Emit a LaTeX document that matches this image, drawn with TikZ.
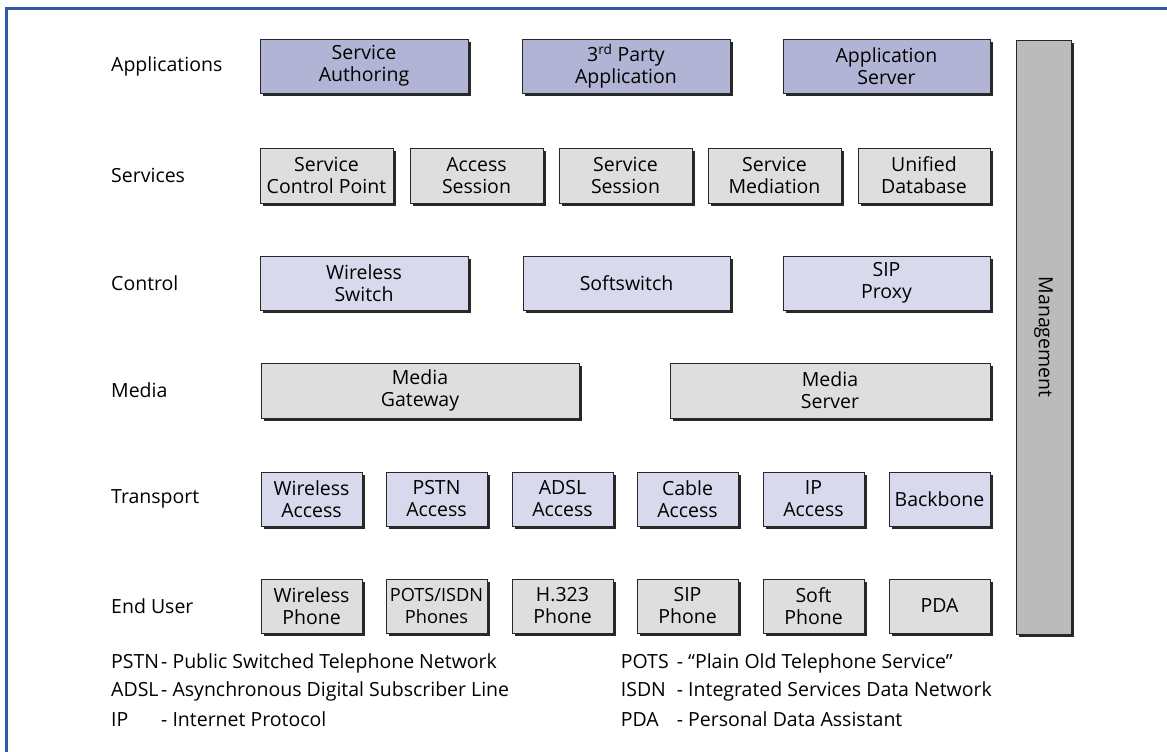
\documentclass[tikz,border=0pt]{standalone}
\usepackage{fontspec}
\setmainfont{Open Sans}
\usetikzlibrary{shadows}

\definecolor{frameblue}{RGB}{46,88,166}
\definecolor{appfill}{RGB}{178,180,214}
\definecolor{ctlfill}{RGB}{216,217,237}
\definecolor{greyfill}{RGB}{222,222,222}
\definecolor{mgmtfill}{RGB}{187,187,187}
\definecolor{edgegrey}{RGB}{40,40,40}

\newcommand{\labelfont}{\fontsize{19.5}{22}\selectfont}
\tikzset{
  layerbox/.style n args={3}{
    draw=edgegrey, line width=0.9pt, fill=#1,
    minimum width=#2, minimum height=#3,
    align=center, inner sep=0pt,
    font=\labelfont,
    drop shadow={shadow xshift=3pt, shadow yshift=-3pt, fill=edgegrey, opacity=1}
  },
  narrowtext/.style={font=\fontsize{18.2}{22}\selectfont},
  rowlabel/.style={anchor=west, inner sep=0pt, font=\labelfont},
  legend/.style={anchor=west, inner sep=0pt, font=\labelfont}
}
\newcommand{\abbr}[1]{\makebox[50pt][l]{#1}}
\newcommand{\abbrwide}[1]{\makebox[56pt][l]{#1}}

\begin{document}
\begin{tikzpicture}[x=1pt, y=-1pt]
\useasboundingbox (0,0) rectangle (1167,752);

% open frame along the top and left edges
\draw[frameblue, line width=3pt] (6.5,770) -- (6.5,8.5) -- (1180,8.5);

% row labels
\node[rowlabel] (lapp) at (111,66) {Applications};
\node[rowlabel] (lsvc) at (111,175.5) {Services};
\node[rowlabel] (lctl) at (111,283) {Control};
\node[rowlabel] (lmed) at (111,390.5) {Media};
\node[rowlabel] (ltrn) at (111,499) {Transport};
\node[rowlabel] (lusr) at (111,606) {End User};

% applications
\node[layerbox={appfill}{208pt}{54pt}] (auth) at (364,66) {Service\\Authoring};
\node[layerbox={appfill}{208pt}{54pt}] (third) at (626,66) {3\textsuperscript{rd} Party\\Application};
\node[layerbox={appfill}{207pt}{54pt}] (appsrv) at (886.5,66) {Application\\Server};

% services
\node[layerbox={greyfill}{133pt}{55pt}] (scp) at (326.5,175.5) {Service\\Control Point};
\node[layerbox={greyfill}{133pt}{55pt}] (accsess) at (476.5,175.5) {Access\\Session};
\node[layerbox={greyfill}{133pt}{55pt}] (svcsess) at (625.5,175.5) {Service\\Session};
\node[layerbox={greyfill}{133pt}{55pt}] (svcmed) at (774.5,175.5) {Service\\Mediation};
\node[layerbox={greyfill}{132pt}{55pt}] (udb) at (924,175.5) {Unified\\Database};

% control
\node[layerbox={ctlfill}{208pt}{54pt}] (wsw) at (364,283) {Wireless\\Switch};
\node[layerbox={ctlfill}{207pt}{54pt}] (soft) at (626.5,283) {Softswitch};
\node[layerbox={ctlfill}{207pt}{54pt}] (sip) at (886.5,283) {SIP\\Proxy};

% media
\node[layerbox={greyfill}{318pt}{55pt}] (mgw) at (420,390.5) {Media\\Gateway};
\node[layerbox={greyfill}{320pt}{55pt}] (msrv) at (830,390.5) {Media\\Server};

% transport
\node[layerbox={ctlfill}{101pt}{54pt}] (wacc) at (311.5,499) {Wireless\\Access};
\node[layerbox={ctlfill}{101pt}{54pt}] (pacc) at (436.5,499) {PSTN\\Access};
\node[layerbox={ctlfill}{101pt}{54pt}] (aacc) at (562.5,499) {ADSL\\Access};
\node[layerbox={ctlfill}{101pt}{54pt}] (cacc) at (687.5,499) {Cable\\Access};
\node[layerbox={ctlfill}{101pt}{54pt}] (iacc) at (813.5,499) {IP\\Access};
\node[layerbox={ctlfill}{101pt}{54pt}] (bb) at (939.5,499) {Backbone};

% end user
\node[layerbox={greyfill}{101pt}{54pt}] (wph) at (311.5,606) {Wireless\\Phone};
\node[layerbox={greyfill}{101pt}{54pt}, narrowtext] (pots) at (436.5,606) {POTS/ISDN\\Phones};
\node[layerbox={greyfill}{101pt}{54pt}] (h323) at (562.5,606) {H.323\\Phone};
\node[layerbox={greyfill}{101pt}{54pt}] (sipph) at (687.5,606) {SIP\\Phone};
\node[layerbox={greyfill}{101pt}{54pt}] (softph) at (813.5,606) {Soft\\Phone};
\node[layerbox={greyfill}{101pt}{54pt}] (pda) at (939.5,606) {PDA};

% management bar
\node[layerbox={mgmtfill}{55pt}{594pt}] (mgmt) at (1043.5,337) {};
\node[rotate=-90, font=\labelfont, inner sep=0pt] (mgmtlbl) at (mgmt.center) {Management};

% abbreviations, left column
\node[legend] (k1) at (111,663) {\abbr{PSTN}- Public Switched Telephone Network};
\node[legend] (k2) at (111,691) {\abbr{ADSL}- Asynchronous Digital Subscriber Line};
\node[legend] (k3) at (111,719) {\abbr{IP}- Internet Protocol};
% abbreviations, right column (its longest line ends under the last boxes)
\node[legend, anchor=east] (k5) at (992,691) {\abbrwide{ISDN}- Integrated Services Data Network};
\node[legend] (k4) at (k5.west |- 0,663) {\abbrwide{POTS}- “Plain Old Telephone Service”};
\node[legend] (k6) at (k5.west |- 0,719) {\abbrwide{PDA}- Personal Data Assistant};
\end{tikzpicture}
\end{document}
